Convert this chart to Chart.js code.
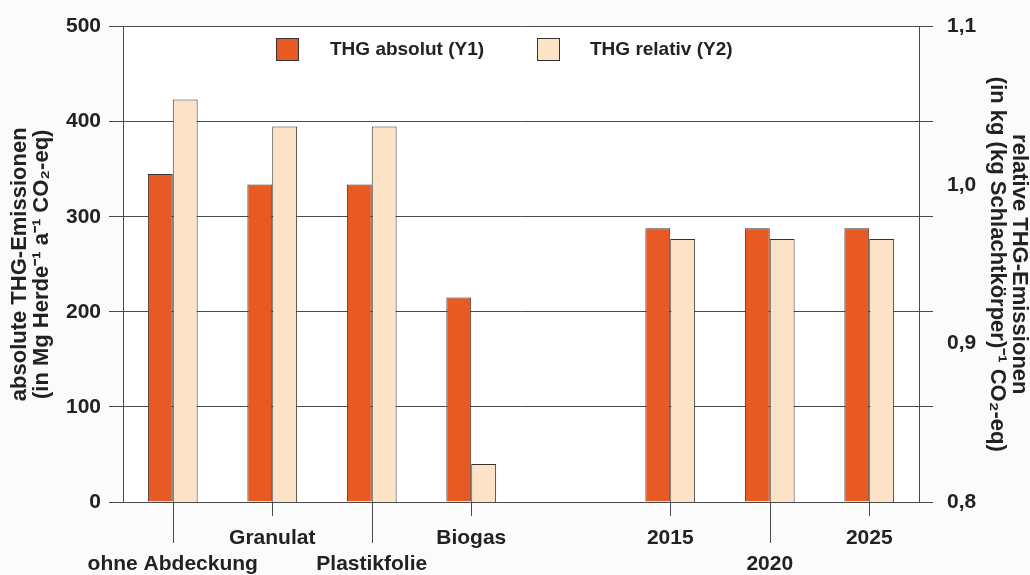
<!DOCTYPE html>
<html>
<head>
<meta charset="utf-8">
<script src="https://cdn.jsdelivr.net/npm/chart.js@4.4.1/dist/chart.umd.min.js"></script>
<style>
html, body { margin: 0; padding: 0; background: #fbfbfb; }
canvas { display: block; }
</style>
</head>
<body>
<canvas id="thgChart" width="1030" height="575"></canvas>
<script>
const categories = ['ohne Abdeckung', 'Granulat', 'Plastikfolie', 'Biogas', '', '2015', '2020', '2025']
const absolut = [345, 334, 334, 215, null, 288, 288, 288]
const relativ = [1.054, 1.037, 1.037, 0.824, null, 0.966, 0.966, 0.966]
const y1Ticks = [0, 100, 200, 300, 400, 500]
const y2Labels = [0.8, 0.9, 1.0, 1.1]

// label row per category: 1 = upper, 2 = lower, 0 = no tick
const labelRow = [2, 1, 2, 1, 0, 1, 2, 1]

const FONT = "'Liberation Sans', Arial, Helvetica, sans-serif"
const ORANGE = '#e85a24'
const CREAM = '#fce3c7'
const LINE = '#4a4a4a'
const EDGE = '#333'
const TEXT = '#222'

const y1Min = y1Ticks[0], y1Max = y1Ticks[y1Ticks.length - 1]
const y2Min = y2Labels[0], y2Max = y2Labels[y2Labels.length - 1]

// right axis stubs line up with the left gridlines
const y2Stubs = y1Ticks.map(v => y2Min + (v - y1Min) / (y1Max - y1Min) * (y2Max - y2Min))
const near = (a, list) => list.some(b => Math.abs(a - b) < 1e-6)

const tickFont = { family: FONT, size: 21, weight: 'bold' }
const titleFont = { family: FONT, size: 22, weight: 'bold', lineHeight: 1 }

const plotBackground = {
    id: 'plotBackground',
    beforeDraw(chart) {
        const { ctx, chartArea: a } = chart
        ctx.save()
        ctx.fillStyle = '#fff'
        ctx.fillRect(a.left, a.top, a.right - a.left, a.bottom - a.top)
        ctx.restore()
    }
}

const categoryTicks = {
    id: 'categoryTicks',
    afterDraw(chart) {
        const { ctx, chartArea: a, scales: { x } } = chart
        ctx.save()
        ctx.strokeStyle = LINE
        ctx.lineWidth = 1
        labelRow.forEach((row, i) => {
            if (!row) return
            const px = Math.round(x.getPixelForTick(i)) + 0.5
            ctx.beginPath()
            ctx.moveTo(px, a.bottom)
            ctx.lineTo(px, a.bottom + (row === 2 ? 41 : 14))
            ctx.stroke()
        })
        ctx.restore()
    }
}

const boxLegend = {
    id: 'boxLegend',
    afterDraw(chart) {
        const { ctx, chartArea: a } = chart
        const slots = [{ box: 153, text: 207 }, { box: 414, text: 467 }]
        ctx.save()
        ctx.font = `bold 19px ${FONT}`
        ctx.textBaseline = 'middle'
        chart.data.datasets.forEach((ds, i) => {
            const bx = a.left + slots[i].box
            ctx.fillStyle = ds.backgroundColor
            ctx.fillRect(bx, 38, 23, 23)
            ctx.strokeStyle = ds.borderColor
            ctx.lineWidth = 1
            ctx.strokeRect(bx + 0.5, 38.5, 22, 22)
            ctx.fillStyle = TEXT
            ctx.fillText(ds.label, a.left + slots[i].text, 50)
        })
        ctx.restore()
    }
}

new Chart(document.getElementById('thgChart'), {
    type: 'bar',
    data: {
        labels: categories,
        datasets: [
            { label: 'THG absolut (Y1)', data: absolut, yAxisID: 'y', backgroundColor: ORANGE, borderColor: EDGE, borderWidth: 1 },
            { label: 'THG relativ (Y2)', data: relativ, yAxisID: 'y2', backgroundColor: CREAM, borderColor: EDGE, borderWidth: 1 }
        ]
    },
    options: {
        responsive: false,
        animation: false,
        layout: { padding: { top: 25, left: 0, right: 0, bottom: 0 } },
        datasets: { bar: { categoryPercentage: 0.5, barPercentage: 1 } },
        plugins: { legend: { display: false }, tooltip: { enabled: false } },
        scales: {
            x: {
                grid: { display: false },
                border: { color: LINE },
                ticks: {
                    autoSkip: false,
                    maxRotation: 0,
                    padding: 15,
                    color: TEXT,
                    font: { ...tickFont, lineHeight: '26px' },
                    callback: (v, i) => labelRow[i] === 2 ? ['', categories[i]] : [categories[i], '']
                },
                afterFit: s => { s.height = 73 }
            },
            y: {
                position: 'left',
                min: y1Min,
                max: y1Max,
                afterBuildTicks: s => { s.ticks = y1Ticks.map(value => ({ value })) },
                grid: { color: LINE, tickLength: 14 },
                border: { color: LINE },
                ticks: { padding: 8, color: TEXT, font: tickFont },
                title: {
                    display: true,
                    text: ['absolute THG-Emissionen', '(in Mg Herde⁻¹ a⁻¹ CO₂-eq)'],
                    color: TEXT,
                    font: titleFont,
                    padding: { top: 9, bottom: 0 }
                },
                afterFit: s => { s.width = 123 }
            },
            y2: {
                position: 'right',
                min: y2Min,
                max: y2Max,
                afterBuildTicks: s => {
                    const vals = [...y2Stubs, ...y2Labels].map(v => +v.toFixed(4))
                    s.ticks = [...new Set(vals)].sort((a, b) => a - b).map(value => ({ value }))
                },
                grid: {
                    drawOnChartArea: false,
                    tickLength: 14,
                    color: c => (c.tick && near(c.tick.value, y2Stubs)) ? LINE : 'rgba(0,0,0,0)'
                },
                border: { color: LINE },
                ticks: {
                    autoSkip: false,
                    padding: 14,
                    color: TEXT,
                    font: tickFont,
                    callback: v => near(v, y2Labels) ? v.toFixed(1).replace('.', ',') : ''
                },
                title: {
                    display: true,
                    text: ['relative THG-Emissionen', '(in kg (kg Schlachtkörper)⁻¹ CO₂-eq)'],
                    color: TEXT,
                    font: titleFont,
                    padding: { top: 0, bottom: 0 }
                },
                afterFit: s => { s.width = 111 }
            }
        }
    },
    plugins: [plotBackground, categoryTicks, boxLegend]
})
</script>
</body>
</html>
